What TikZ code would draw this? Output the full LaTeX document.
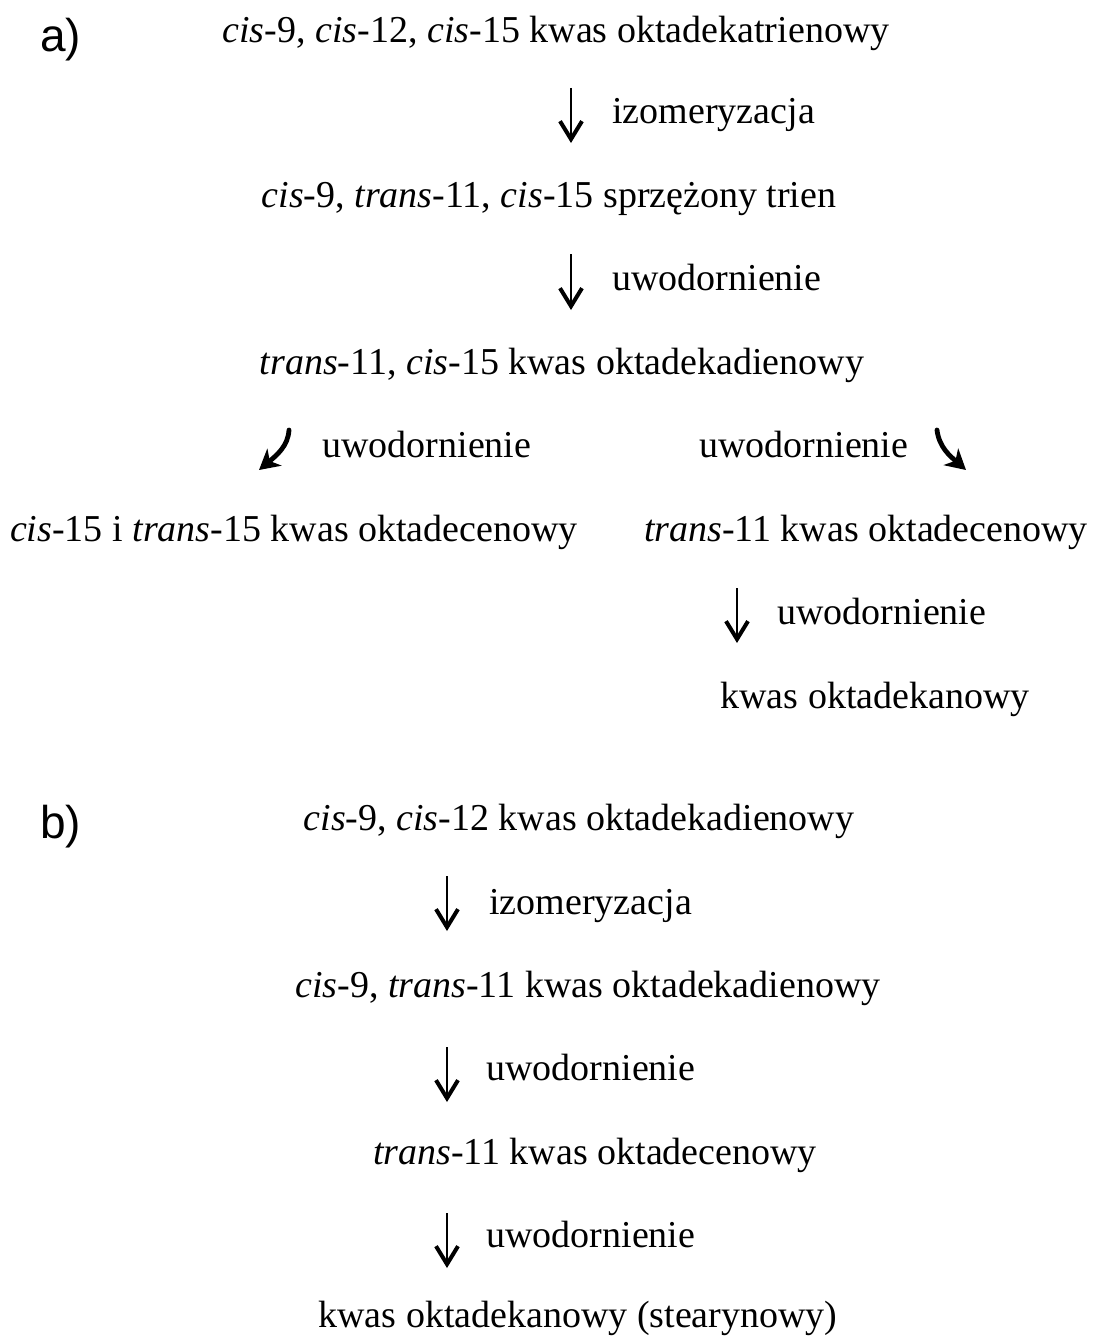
\documentclass[tikz,border=0pt]{standalone}
\usepackage{fontspec}
\setmainfont{Liberation Serif}
\newfontfamily\partfont{Liberation Sans}
\usetikzlibrary{arrows.meta}

\tikzset{
  txt/.style={inner sep=0pt, anchor=base, font=\fontsize{19}{23}\selectfont},
  lbl/.style={inner sep=0pt, anchor=base west, font=\fontsize{19}{23}\selectfont},
  partlbl/.style={inner sep=0pt, anchor=base west, font=\partfont\fontsize{23}{27}\selectfont},
  down/.style={line width=1.2pt, -{Straight Barb[length=9pt, width=11pt, line width=2pt]}},
  hand/.style={line width=2.4pt, line cap=round, -{Stealth[length=10pt, width=11pt, inset=3pt]}}
}

\begin{document}
\begin{tikzpicture}[x=0.5pt, y=-0.5pt]
\useasboundingbox (0,0) rectangle (1094,1338);

% ---------- part a ----------
\node[partlbl] (pa) at (40,52) {a)};
\node[txt] (a1) at (556,43) {\textit{cis}-9, \textit{cis}-12, \textit{cis}-15 kwas oktadekatrienowy};
\coordinate (a1s) at (571,88);
\coordinate (a1e) at (571,143);
\draw[down] (a1s) -- (a1e);
\node[lbl] (la1) at (612,124) {izomeryzacja};

\node[txt] (a2) at (549,207) {\textit{cis}-9, \textit{trans}-11, \textit{cis}-15 sprzężony trien};
\coordinate (a2s) at (571,254);
\coordinate (a2e) at (571,310);
\draw[down] (a2s) -- (a2e);
\node[lbl] (la2) at (612,290.5) {uwodornienie};

\node[txt] (a3) at (562,374) {\textit{trans}-11, \textit{cis}-15 kwas oktadekadienowy};

% branching hydrogenation
\coordinate (dls) at (289,430);
\coordinate (dle) at (259,470);
\draw[hand] (dls) .. controls (288,446) and (277,455) .. (dle);
\node[lbl] (ldl) at (322,457.5) {uwodornienie};

\coordinate (drs) at (937,430);
\coordinate (dre) at (966,470);
\draw[hand] (drs) .. controls (939,447) and (950,456) .. (dre);
\node[lbl] (ldr) at (699,457.5) {uwodornienie};

\node[txt] (a4l) at (294,541) {\textit{cis}-15 i \textit{trans}-15 kwas oktadecenowy};
\node[txt] (a4r) at (866,541) {\textit{trans}-11 kwas oktadecenowy};

\coordinate (a3s) at (737,588);
\coordinate (a3e) at (737,643);
\draw[down] (a3s) -- (a3e);
\node[lbl] (la3) at (777,624.5) {uwodornienie};

\node[txt] (a5) at (875,708) {kwas oktadekanowy};

% ---------- part b ----------
\node[partlbl] (pb) at (40,838) {b)};
\node[txt] (b1) at (579,830) {\textit{cis}-9, \textit{cis}-12 kwas oktadekadienowy};
\coordinate (b1s) at (447,876);
\coordinate (b1e) at (447,931);
\draw[down] (b1s) -- (b1e);
\node[lbl] (lb1) at (489,914) {izomeryzacja};

\node[txt] (b2) at (588,997) {\textit{cis}-9, \textit{trans}-11 kwas oktadekadienowy};
\coordinate (b2s) at (447,1047);
\coordinate (b2e) at (447,1102);
\draw[down] (b2s) -- (b2e);
\node[lbl] (lb2) at (486,1080) {uwodornienie};

\node[txt] (b3) at (595,1164) {\textit{trans}-11 kwas oktadecenowy};
\coordinate (b3s) at (447,1213);
\coordinate (b3e) at (447,1268);
\draw[down] (b3s) -- (b3e);
\node[lbl] (lb3) at (486,1247) {uwodornienie};

\node[txt] (b4) at (578,1327) {kwas oktadekanowy (stearynowy)};
\end{tikzpicture}
\end{document}
